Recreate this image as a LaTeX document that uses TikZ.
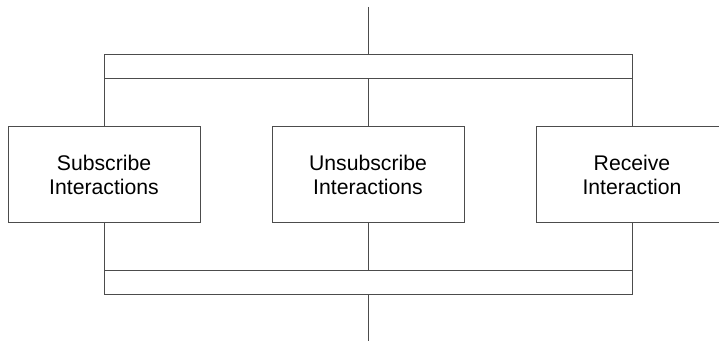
\documentclass[tikz,border=0pt]{standalone}
\usepackage{fontspec}
\setmainfont{Liberation Sans}
\usetikzlibrary{positioning}
\definecolor{linegray}{gray}{0.3}
\begin{document}
\begin{tikzpicture}[x=0.5pt,y=0.5pt,line width=0.5pt,
    node distance=36pt,
    box/.style={draw=linegray,minimum width=96pt,minimum height=48pt,
                inner sep=0pt,outer sep=0pt,align=center,
                font=\fontsize{10.6}{11.6}\selectfont},
    bar/.style={draw=linegray,minimum width=264pt,minimum height=12pt,
                inner sep=0pt,outer sep=0pt},
    link/.style={draw=linegray}]
    \clip (0,0) rectangle (719,341);
    \coordinate (in) at (368,334);
    \coordinate (out) at (368,0);
    \node[bar] (fork) at (368,274) {};
    \node[box] (unsub) at (368,166) {Unsubscribe\\Interactions};
    \node[box,left=of unsub] (sub) {Subscribe\\Interactions};
    \node[box,right=of unsub] (recv) {Receive\\Interaction};
    \node[bar] (join) at (368,58) {};
    \draw[link] (in) -- (fork);
    \foreach \n in {sub,unsub,recv} {
      \draw[link] (fork.south -| \n) -- (\n);
      \draw[link] (\n) -- (join.north -| \n);
    }
    \draw[link] (join) -- (out);
  \end{tikzpicture}
\end{document}
